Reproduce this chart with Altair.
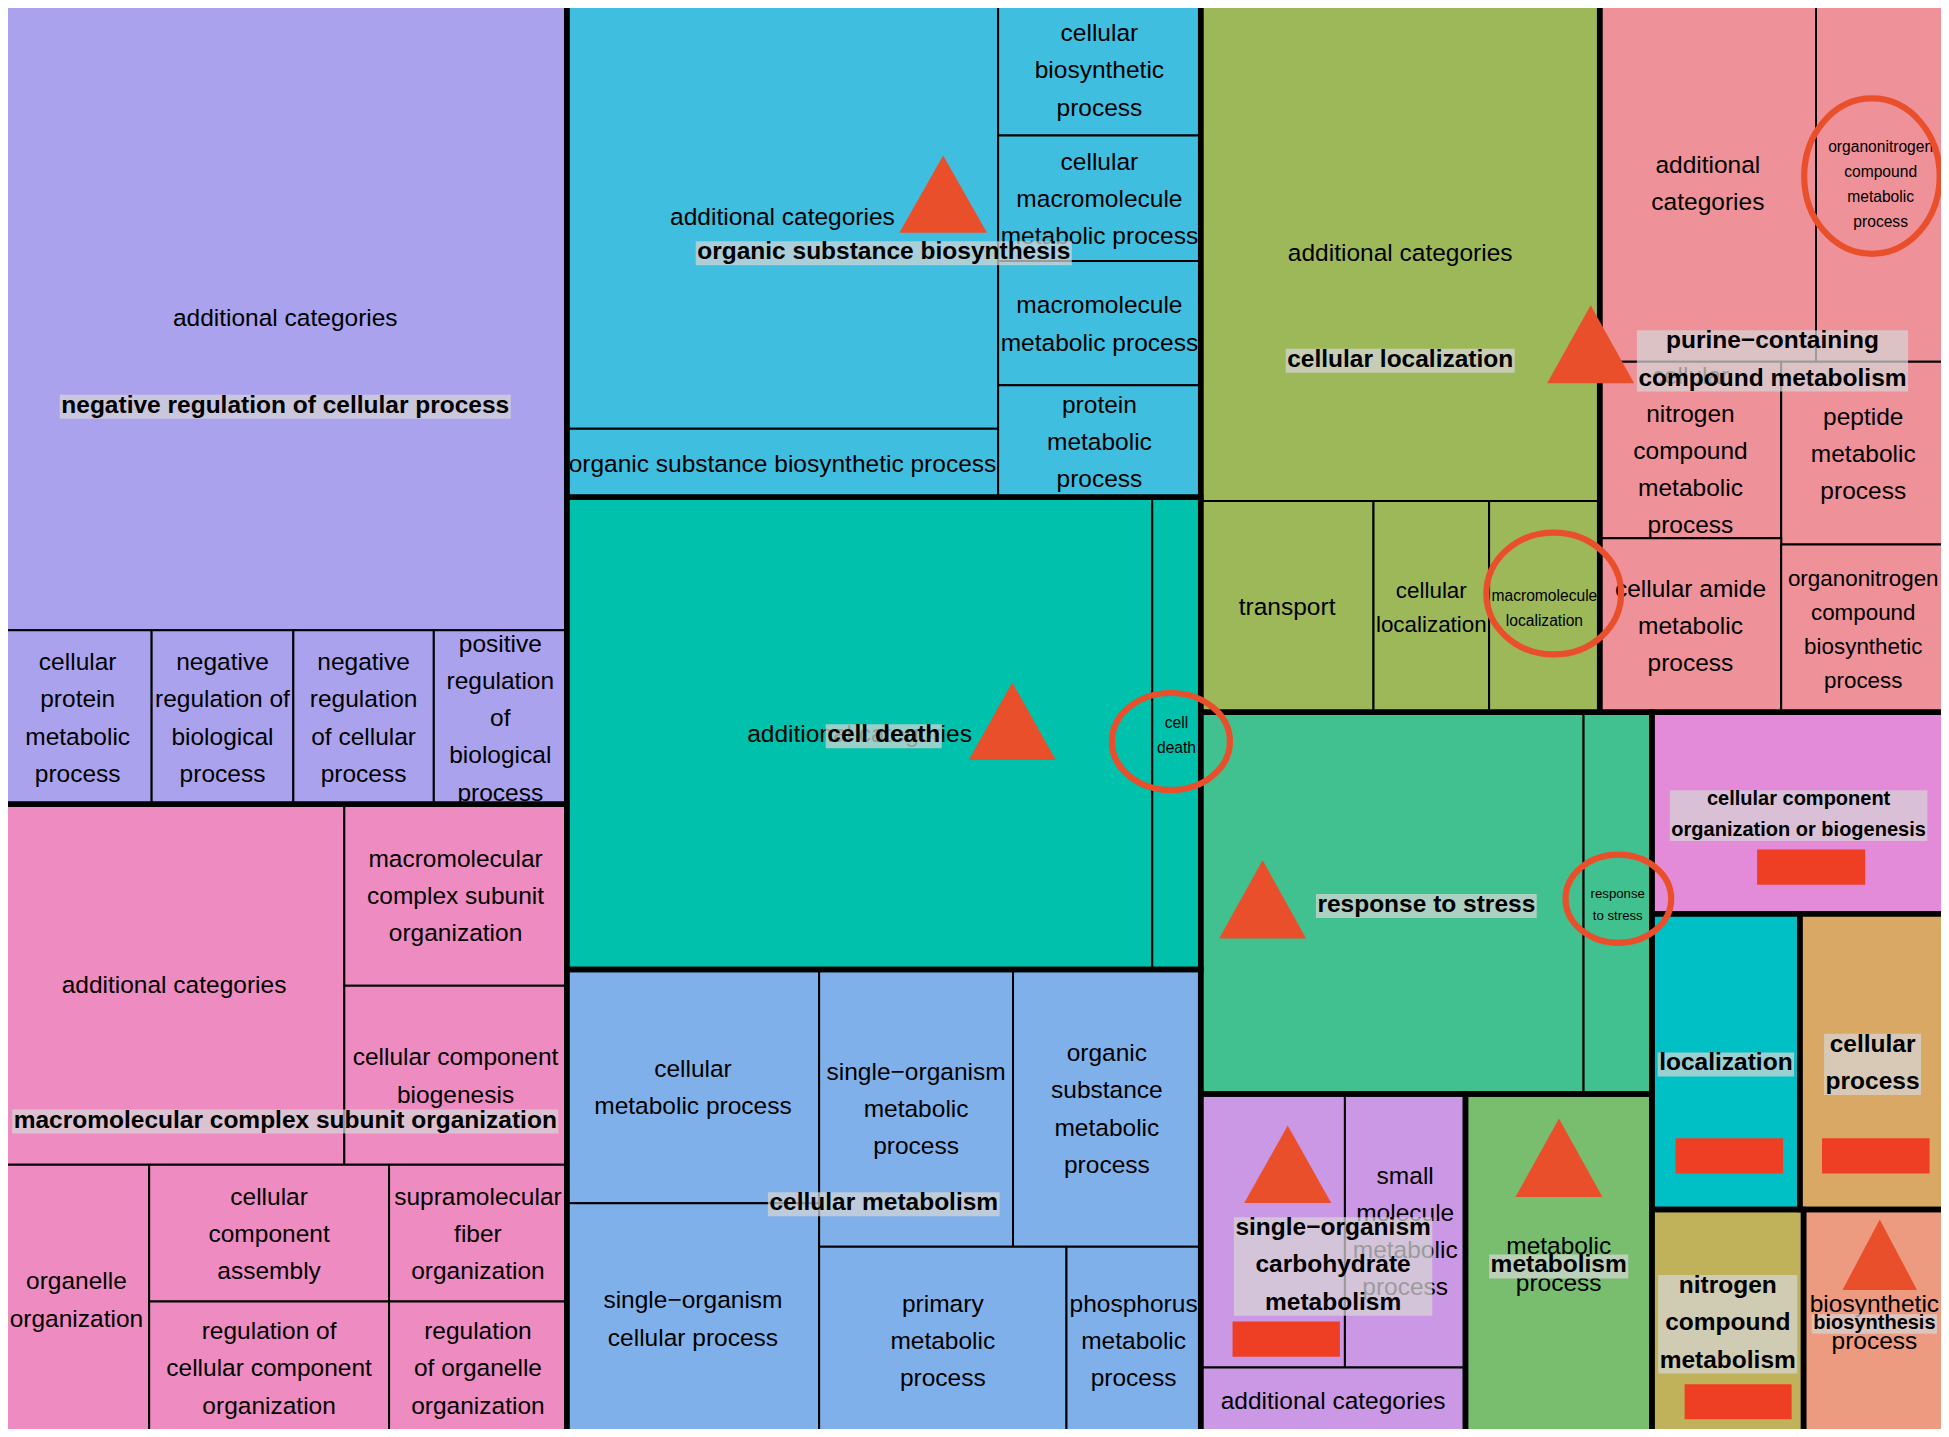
import altair as alt
import pandas as pd

# ---------------------------------------------------------------------------
# Layout grid: treemap tiles are given in units of a 1568 x 1156 grid
# ---------------------------------------------------------------------------
PAGE_W, PAGE_H, MARGIN = 1949, 1437, 8
GRID_W, GRID_H = 1568, 1156
PLOT_W, PLOT_H = PAGE_W - 2 * MARGIN, PAGE_H - 2 * MARGIN
PX = PAGE_W / GRID_W  # page pixels per grid unit
X_DOMAIN = [MARGIN / PX, (PAGE_W - MARGIN) / PX]
Y_DOMAIN = [MARGIN * GRID_H / PAGE_H, (PAGE_H - MARGIN) * GRID_H / PAGE_H]
FONT = "Liberation Sans"

# ---------------------------------------------------------------------------
# Data: top-level groups (bold labels)
# ---------------------------------------------------------------------------
group_names = [
    "negative regulation of cellular process",
    "macromolecular complex subunit organization",
    "organic substance biosynthesis",
    "cell death",
    "cellular metabolism",
    "cellular localization",
    "purine−containing compound metabolism",
    "response to stress",
    "cellular component organization or biogenesis",
    "localization",
    "cellular process",
    "nitrogen compound metabolism",
    "biosynthesis",
    "single−organism carbohydrate metabolism",
    "metabolism",
]
group_label_text = [
    "negative regulation of cellular process",
    "macromolecular complex subunit organization",
    "organic substance biosynthesis",
    "cell death",
    "cellular metabolism",
    "cellular localization",
    "purine−containing\ncompound metabolism",
    "response to stress",
    "cellular component\norganization or biogenesis",
    "localization",
    "cellular\nprocess",
    "nitrogen\ncompound\nmetabolism",
    "biosynthesis",
    "single−organism\ncarbohydrate\nmetabolism",
    "metabolism",
]
group_x0 = [3, 3, 456, 456, 456, 966, 1287, 966, 1329, 1329, 1448, 1329, 1451, 966, 1179]
group_x1 = [456, 456, 966, 966, 966, 1287, 1565, 1329, 1565, 1448, 1565, 1451, 1565, 1179, 1329]
group_y0 = [3, 647, 3, 400, 780, 3, 3, 573, 573, 735, 735, 973, 973, 880, 880]
group_y1 = [647, 1153, 400, 780, 1153, 573, 573, 880, 735, 973, 973, 1153, 1153, 1153, 1153]

# ---------------------------------------------------------------------------
# Data: tiles (terms) inside the groups
# ---------------------------------------------------------------------------
tile_group = [0, 0, 0, 0, 0,
              1, 1, 1, 1, 1, 1, 1, 1,
              2, 2, 2, 2, 2, 2,
              3, 3,
              4, 4, 4, 4, 4, 4,
              5, 5, 5, 5,
              6, 6, 6, 6, 6, 6,
              7, 7,
              8, 9, 10, 11, 12,
              13, 13, 13,
              14]
tile_label = [
    "additional categories",
    "cellular\nprotein\nmetabolic\nprocess",
    "negative\nregulation of\nbiological\nprocess",
    "negative\nregulation\nof cellular\nprocess",
    "positive\nregulation\nof\nbiological\nprocess",
    "additional categories",
    "macromolecular\ncomplex subunit\norganization",
    "cellular component\nbiogenesis",
    "organelle\norganization",
    "cellular\ncomponent\nassembly",
    "supramolecular\nfiber\norganization",
    "regulation of\ncellular component\norganization",
    "regulation\nof organelle\norganization",
    "additional categories",
    "organic substance biosynthetic process",
    "cellular\nbiosynthetic\nprocess",
    "cellular\nmacromolecule\nmetabolic process",
    "macromolecule\nmetabolic process",
    "protein\nmetabolic\nprocess",
    "additional categories",
    "cell\ndeath",
    "cellular\nmetabolic process",
    "single−organism\ncellular process",
    "single−organism\nmetabolic\nprocess",
    "organic\nsubstance\nmetabolic\nprocess",
    "primary\nmetabolic\nprocess",
    "phosphorus\nmetabolic\nprocess",
    "additional categories",
    "transport",
    "cellular\nlocalization",
    "macromolecule\nlocalization",
    "additional\ncategories",
    "organonitrogen\ncompound\nmetabolic\nprocess",
    "cellular\nnitrogen\ncompound\nmetabolic\nprocess",
    "peptide\nmetabolic\nprocess",
    "cellular amide\nmetabolic\nprocess",
    "organonitrogen\ncompound\nbiosynthetic\nprocess",
    "",
    "response\nto stress",
    "", "", "", "",
    "biosynthetic\nprocess",
    "",
    "small\nmolecule\nmetabolic\nprocess",
    "additional categories",
    "metabolic\nprocess",
]
tile_x0 = [3, 3, 122, 236, 349,
           3, 277, 277, 3, 120, 313, 120, 313,
           456, 456, 803, 803, 803, 803,
           456, 927,
           456, 456, 659, 815, 659, 858,
           966, 966, 1105, 1198,
           1287, 1461, 1287, 1433, 1287, 1433,
           966, 1274,
           1329, 1329, 1448, 1329, 1451,
           966, 1082, 966,
           1179]
tile_x1 = [456, 122, 236, 349, 456,
           277, 456, 456, 120, 313, 456, 313, 456,
           803, 803, 966, 966, 966, 966,
           927, 966,
           659, 659, 815, 966, 858, 966,
           1287, 1105, 1198, 1287,
           1461, 1565, 1433, 1565, 1433, 1565,
           1274, 1329,
           1565, 1448, 1565, 1451, 1565,
           1082, 1179, 1179,
           1329]
tile_y0 = [3, 507, 507, 507, 507,
           647, 647, 793, 937, 937, 937, 1047, 1047,
           3, 345, 3, 109, 210, 310,
           400, 400,
           780, 968, 780, 780, 1003, 1003,
           3, 403, 403, 403,
           3, 3, 291, 291, 433, 438,
           573, 573,
           573, 735, 735, 973, 973,
           880, 880, 1100,
           880]
tile_y1 = [507, 647, 647, 647, 647,
           937, 793, 937, 1153, 1047, 1047, 1153, 1153,
           345, 400, 109, 210, 310, 400,
           780, 780,
           968, 1153, 1003, 1003, 1153, 1153,
           403, 573, 573, 573,
           291, 291, 433, 438, 573, 573,
           880, 880,
           735, 973, 973, 1153, 1153,
           1100, 1100, 1153,
           1153]

# ---------------------------------------------------------------------------
# Data: hand-drawn highlight marks laid over the treemap
# ---------------------------------------------------------------------------
tri_x = [758.8, 814.4, 1279.7, 1015.8, 1036.0, 1254.2, 1512.3]
tri_apex = [125.0, 549.0, 245.6, 692.0, 905.5, 899.8, 981.0]
tri_base = [187.2, 611.4, 308.4, 755.0, 967.8, 963.0, 1037.8]
tri_width = [70.5, 70.0, 70.0, 70.0, 70.0, 70.0, 60.0]

ring_x = [1506.0, 1250.0, 942.0, 1302.0]
ring_y = [141.7, 477.5, 596.5, 723.0]
ring_rx = [57.0, 56.7, 50.0, 45.0]
ring_ry = [65.0, 51.5, 41.5, 38.0]

box_x0 = [1413.6, 1348.0, 1465.8, 1355.3, 991.6]
box_x1 = [1500.6, 1434.5, 1552.4, 1441.4, 1078.0]
box_y0 = [683.4, 915.7, 915.7, 1113.5, 1063.0]
box_y1 = [711.8, 944.0, 944.0, 1141.8, 1091.5]

# ---------------------------------------------------------------------------
# Styles
# ---------------------------------------------------------------------------
group_colors = ["#ABA2EE", "#EE8BC0", "#3FBEE0", "#00C1AB", "#7FB0EA",
                "#9DB859", "#EE9199", "#41C18F", "#E38AD9", "#00C0C6",
                "#D9A865", "#C0B25A", "#EC9A80", "#CB98E6", "#79BE6F"]
MARK_RED = "#EA4F2B"
BOX_RED = "#EE3F24"
TEXT_NUDGE = 1.5  # grid units; visual centring of text relative to tile centre

TEXT_STYLES = {  # name: (font size px, line height px)
    "normal": (24.5, 37.3),
    "medium": (22.4, 34.0),
    "small": (15.6, 25.0),
    "tiny": (13.2, 22.0),
    "bold": (24.5, 37.3),
    "bold_small": (20.0, 31.0),
}
tile_style_override = {
    "cell\ndeath": "small",
    "macromolecule\nlocalization": "small",
    "organonitrogen\ncompound\nmetabolic\nprocess": "small",
    "response\nto stress": "tiny",
    "organonitrogen\ncompound\nbiosynthetic\nprocess": "medium",
    "cellular\nlocalization": "medium",
}
group_style_override = {
    "cellular component organization or biogenesis": "bold_small",
    "biosynthesis": "bold_small",
}

# Arial / Liberation Sans Bold advance widths (em fraction) for label boxes
BOLD_W = dict(zip("abcdefghijklmnopqrstuvwxyz",
                  [.556, .611, .556, .611, .556, .333, .611, .611, .278, .278,
                   .556, .278, .889, .611, .611, .611, .611, .389, .556, .333,
                   .611, .556, .778, .556, .556, .5]))
BOLD_W.update({" ": .278, "−": .584, "-": .333})


def bold_width(text, fs):
    return max(sum(BOLD_W.get(c, .6) for c in line) for line in text.split("\n")) * fs


def first_line_y(cy, text, style):
    """Vega puts the first line at y; shift so the whole block is centred."""
    fs, lh = TEXT_STYLES[style]
    n = text.count("\n") + 1
    return cy - (n - 1) * lh / 2 / PX + TEXT_NUDGE


# ---------------------------------------------------------------------------
# Tables
# ---------------------------------------------------------------------------
groups = pd.DataFrame({
    "group": group_names, "label": group_label_text,
    "x0": group_x0, "x1": group_x1, "y0": group_y0, "y1": group_y1,
})
groups["cx"] = (groups.x0 + groups.x1) / 2
groups["cy"] = (groups.y0 + groups.y1) / 2
groups["style"] = [group_style_override.get(g, "bold") for g in group_names]
groups["ty"] = [first_line_y(c, l, s) for c, l, s in zip(groups.cy, groups.label, groups["style"])]
hw, hh, dy = [], [], []
for lab, st in zip(groups.label, groups["style"]):
    fs, lh = TEXT_STYLES[st]
    n = lab.count("\n") + 1
    hw.append((bold_width(lab, fs) / 2 + 1.5) / PX)
    hh.append(((n - 1) * lh + 0.98 * fs) / 2 / PX)
    dy.append(0.04 * fs / PX + TEXT_NUDGE)
groups["bx0"] = groups.cx - hw
groups["bx1"] = groups.cx + hw
groups["by0"] = groups.cy + dy - hh
groups["by1"] = groups.cy + dy + hh

tiles = pd.DataFrame({
    "group": [group_names[i] for i in tile_group], "label": tile_label,
    "x0": tile_x0, "x1": tile_x1, "y0": tile_y0, "y1": tile_y1,
})
tiles["cx"] = (tiles.x0 + tiles.x1) / 2
tiles["cy"] = (tiles.y0 + tiles.y1) / 2
tiles["style"] = [tile_style_override.get(l, "normal") for l in tile_label]
tiles["ty"] = [first_line_y(c, l, s) for c, l, s in zip(tiles.cy, tiles.label, tiles["style"])]

tri = pd.DataFrame({"x": tri_x, "apex": tri_apex, "base": tri_base, "w": tri_width})
tri["y"] = (tri.apex + tri.base) / 2
tri["shape"] = [f"M-1,{(b - a) / w:.3f}L0,{-(b - a) / w:.3f}L1,{(b - a) / w:.3f}Z"
                for a, b, w in zip(tri.apex, tri.base, tri.w)]
tri["size"] = (tri.w * PX) ** 2

RING_SW = 2.5  # half of the ring stroke, in grid units
rings = pd.DataFrame({"x": ring_x, "y": ring_y, "rx": ring_rx, "ry": ring_ry})
shapes, sizes = [], []
for rx, ry in zip(rings.rx - RING_SW, rings.ry - RING_SW):
    m = max(rx, ry)
    a, b = rx / m, ry / m
    shapes.append(f"M{-a:.3f},0A{a:.3f},{b:.3f},0,1,0,{a:.3f},0A{a:.3f},{b:.3f},0,1,0,{-a:.3f},0Z")
    sizes.append((2 * m * PX) ** 2)
rings["shape"] = shapes
rings["size"] = sizes

boxes = pd.DataFrame({"x0": box_x0, "x1": box_x1, "y0": box_y0, "y1": box_y1})

# ---------------------------------------------------------------------------
# Chart
# ---------------------------------------------------------------------------
xs = alt.Scale(domain=X_DOMAIN, nice=False, zero=False)
ys = alt.Scale(domain=Y_DOMAIN, nice=False, zero=False, reverse=True)


def X(f):
    return alt.X(f"{f}:Q", scale=xs, axis=None)


def Y(f):
    return alt.Y(f"{f}:Q", scale=ys, axis=None)


color = alt.Color("group:N", scale=alt.Scale(domain=group_names, range=group_colors), legend=None)

tile_layer = alt.Chart(tiles).mark_rect(stroke="black", strokeWidth=2, opacity=1).encode(
    x=X("x0"), x2=alt.X2("x1"), y=Y("y0"), y2=alt.Y2("y1"), color=color)

group_layer = alt.Chart(groups).mark_rect(fillOpacity=0, stroke="black", strokeWidth=5.5).encode(
    x=X("x0"), x2=alt.X2("x1"), y=Y("y0"), y2=alt.Y2("y1"))

layers = [tile_layer, group_layer]

for st in ["normal", "medium", "small", "tiny"]:
    sub = tiles[(tiles["style"] == st) & (tiles.label != "")]
    if len(sub) == 0:
        continue
    fs, lh = TEXT_STYLES[st]
    layers.append(alt.Chart(sub).mark_text(
        font=FONT, fontSize=fs, lineHeight=lh, lineBreak="\n",
        align="center", baseline="middle", color="black").encode(
        x=X("cx"), y=Y("ty"), text="label:N"))

layers.append(alt.Chart(groups).mark_rect(fill="#D6D6D6", opacity=0.72).encode(
    x=X("bx0"), x2=alt.X2("bx1"), y=Y("by0"), y2=alt.Y2("by1")))

for st in ["bold", "bold_small"]:
    sub = groups[groups["style"] == st]
    fs, lh = TEXT_STYLES[st]
    layers.append(alt.Chart(sub).mark_text(
        font=FONT, fontSize=fs, fontWeight="bold", lineHeight=lh, lineBreak="\n",
        align="center", baseline="middle", color="black").encode(
        x=X("cx"), y=Y("ty"), text="label:N"))

layers.append(alt.Chart(tri).mark_point(filled=True, opacity=1, color=MARK_RED, strokeWidth=0).encode(
    x=X("x"), y=Y("y"),
    shape=alt.Shape("shape:N", scale=None),
    size=alt.Size("size:Q", scale=None)))

layers.append(alt.Chart(rings).mark_point(filled=False, opacity=1, color=MARK_RED, strokeWidth=6.2).encode(
    x=X("x"), y=Y("y"),
    shape=alt.Shape("shape:N", scale=None),
    size=alt.Size("size:Q", scale=None)))

layers.append(alt.Chart(boxes).mark_rect(color=BOX_RED, opacity=1).encode(
    x=X("x0"), x2=alt.X2("x1"), y=Y("y0"), y2=alt.Y2("y1")))

chart = alt.layer(*layers).properties(
    width=PLOT_W, height=PLOT_H,
    autosize=alt.AutoSizeParams(type="none"),
    padding=0,
).configure_view(stroke="transparent")

chart.save("out.html", embed_options={"renderer": "svg", "actions": False})
